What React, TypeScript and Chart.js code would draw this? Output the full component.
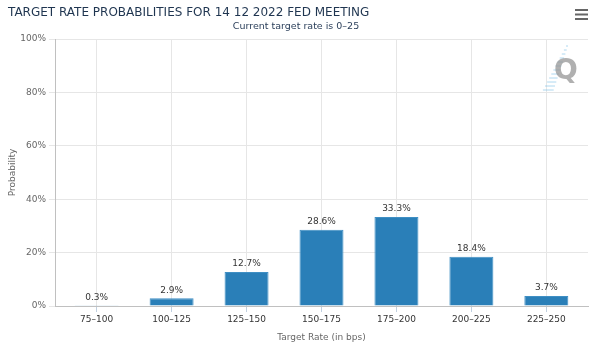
import React, { useEffect, useRef } from "react";
import { Chart, registerables } from "chart.js";

Chart.register(...registerables);

const categories = ["75–100", "100–125", "125–150", "150–175", "175–200", "200–225", "225–250"];
const probabilities = [0.3, 2.9, 12.7, 28.6, 33.3, 18.4, 3.7];
const yTicks = [0, 20, 40, 60, 80, 100];
const titleText = "TARGET RATE PROBABILITIES FOR 14 12 2022 FED MEETING";
const subtitleText = "Current target rate is 0–25";
const xAxisTitle = "Target Rate (in bps)";
const yAxisTitle = "Probability";

const FONT = "'DejaVu Sans', Verdana, sans-serif";

const decorPlugin = {
  id: "decor",
  afterDraw(chart: any) {
    const ctx = chart.ctx;
    ctx.save();
    // title
    ctx.fillStyle = "#1f3550";
    ctx.font = `12px ${FONT}`;
    ctx.textAlign = "left";
    ctx.textBaseline = "middle";
    ctx.fillText(titleText, 8, 13);
    // subtitle
    ctx.fillStyle = "#2b3f5a";
    ctx.font = `9.5px ${FONT}`;
    ctx.textAlign = "center";
    ctx.fillText(subtitleText, 296, 27);
    // menu icon
    ctx.strokeStyle = "#666";
    ctx.lineWidth = 2;
    for (let i = 0; i < 3; i++) {
      const y = 10 + i * 4.5;
      ctx.beginPath();
      ctx.moveTo(575, y);
      ctx.lineTo(588, y);
      ctx.stroke();
    }
    // watermark
    ctx.strokeStyle = "rgba(120,190,230,0.6)";
    ctx.lineWidth = 1;
    for (let i = 0; i < 12; i++) {
      const y = 46 + i * 4;
      const x2 = 568 - i * 1.3;
      const len = 2 + i * 0.8;
      ctx.beginPath();
      ctx.moveTo(x2 - len, y);
      ctx.lineTo(x2, y);
      ctx.stroke();
    }
    ctx.fillStyle = "rgba(150,150,150,0.75)";
    ctx.font = `bold 28px ${FONT}`;
    ctx.textAlign = "center";
    ctx.fillText("Q", 566, 72);
    // data labels
    const meta = chart.getDatasetMeta(0);
    ctx.fillStyle = "#333";
    ctx.font = `9px ${FONT}`;
    ctx.textAlign = "center";
    meta.data.forEach((bar: any, i: number) => {
      ctx.fillText(probabilities[i].toFixed(1) + "%", bar.x, bar.y - 8);
    });
    ctx.restore();
  },
};

export default function App() {
  const ref = useRef<HTMLCanvasElement>(null);
  useEffect(() => {
    document.body.style.margin = "0";
    const chart = new Chart(ref.current!, {
      type: "bar",
      data: {
        datasets: [
          {
            data: probabilities.map((v, i) => ({ x: i, y: v })),
            backgroundColor: "#2a7fb8",
            borderColor: "#3f8fc4",
            borderWidth: 1,
            barPercentage: 0.587,
            categoryPercentage: 1,
          },
        ],
      },
      options: {
        animation: false,
        responsive: false,
        layout: { padding: { top: 39, right: 4, left: 0, bottom: 0 } },
        plugins: { legend: { display: false }, tooltip: { enabled: false }, title: { display: false } },
        scales: {
          x: {
            type: "linear",
            offset: false,
            min: -0.556,
            max: 6.556,
            afterBuildTicks: (scale: any) => {
              scale.ticks = categories.map((_, i) => ({ value: i }));
            },
            afterFit: (scale: any) => {
              scale.height = 37;
            },
            ticks: {
              autoSkip: false,
              maxRotation: 0,
              padding: 2,
              color: "#333",
              font: { family: FONT, size: 9 },
              callback: (v: any) => categories[v] ?? "",
            },
            grid: { color: "#e6e6e6", tickColor: "#c0d0e0", tickLength: 6, offset: false },
            border: { color: "#c0c0c0" },
            title: {
              display: true,
              text: xAxisTitle,
              color: "#666",
              font: { family: FONT, size: 9 },
              padding: { top: 2, bottom: 0 },
            },
          },
          y: {
            min: 0,
            max: 100,
            afterBuildTicks: (scale: any) => {
              scale.ticks = yTicks.map((v) => ({ value: v }));
            },
            afterFit: (scale: any) => {
              scale.width = 55;
            },
            ticks: {
              color: "#666",
              padding: 3,
              font: { family: FONT, size: 9 },
              callback: (v: any) => v + "%",
            },
            grid: { color: "#e6e6e6", tickLength: 6 },
            border: { color: "#c0c0c0" },
            title: {
              display: true,
              text: yAxisTitle,
              color: "#666",
              font: { family: FONT, size: 9 },
              padding: { top: 7, bottom: 0 },
            },
          },
        },
      },
      plugins: [decorPlugin],
    } as any);
    return () => chart.destroy();
  }, []);
  return (
    <div style={{ width: 592, height: 343 }}>
      <canvas ref={ref} width={592} height={343} style={{ display: "block" }} />
    </div>
  );
}
